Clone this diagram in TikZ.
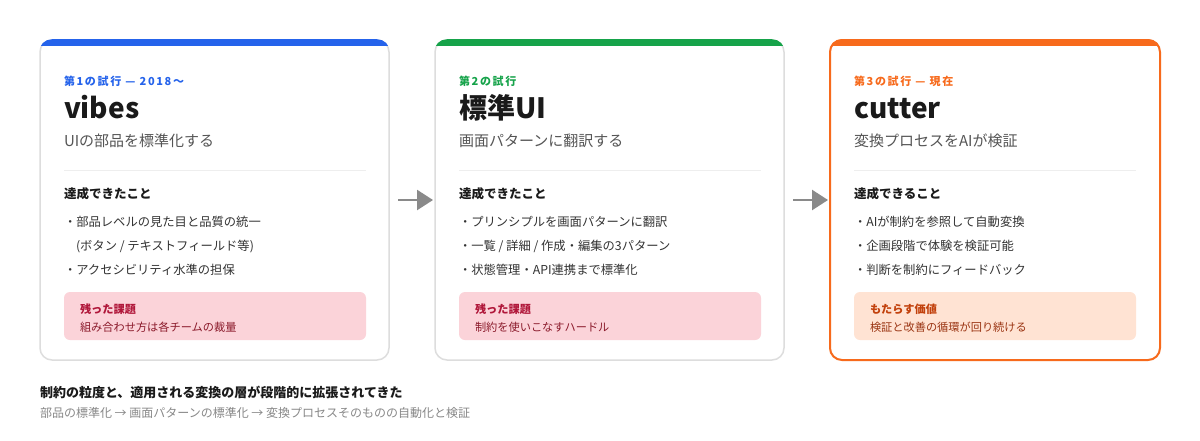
\documentclass[tikz,border=0pt]{standalone}
\usepackage{fontspec}
\setmainfont{Noto Sans CJK JP}
\usetikzlibrary{arrows.meta}
\definecolor{cblue}{HTML}{2563EB}
\definecolor{cgreen}{HTML}{16A34A}
\definecolor{corange}{HTML}{F76A1C}
\definecolor{cardline}{HTML}{DDDDDD}
\definecolor{sepline}{HTML}{EEEEEE}
\definecolor{darktxt}{HTML}{1A1A1A}
\definecolor{subtxt}{HTML}{555555}
\definecolor{bultxt}{HTML}{333333}
\definecolor{pinkfill}{HTML}{FBD3D9}
\definecolor{pinktitle}{HTML}{B0173A}
\definecolor{pinkbody}{HTML}{8B1A2B}
\definecolor{orfill}{HTML}{FFE3D3}
\definecolor{ortitle}{HTML}{C2410C}
\definecolor{orbody}{HTML}{9A3412}
\definecolor{arrowgray}{HTML}{8A8A8A}
\definecolor{foottxt}{HTML}{888888}
\newcommand\setfs[1]{\fontsize{#1}{#1}\selectfont}
\tikzset{
  card/.style={draw=cardline, line width=1.5pt, fill=white, rounded corners=12pt,
    minimum width=349pt, minimum height=320pt, inner sep=0pt, outer sep=0pt},
  txt/.style={anchor=base west, inner sep=0pt, outer sep=0pt},
  lbl/.style={txt, font=\setfs{11}\bfseries\addfontfeature{LetterSpace=15}},
  ttl/.style={txt, text=darktxt, font=\setfs{28}\bfseries},
  sub/.style={txt, text=subtxt, font=\setfs{15}},
  hd/.style={txt, text=darktxt, font=\setfs{12.5}\bfseries},
  bul/.style={txt, text=bultxt, font=\setfs{12.3}},
  sepl/.style={draw=sepline, line width=1pt},
  boxstyle/.style={rounded corners=6pt, minimum height=48pt, inner sep=0pt, outer sep=0pt},
  btitle/.style={txt, font=\setfs{11.2}\bfseries},
  bbody/.style={txt, font=\setfs{11.2}},
  flow/.style={draw=arrowgray, line width=2.5pt, -{Triangle[length=16pt,width=20pt]}},
}
\begin{document}
\begin{tikzpicture}[x=1pt,y=-1pt]
\useasboundingbox[fill=white] (0,0) rectangle (1200,440);

% cards
\node[card] (c1) at (214.5,200) {};
\node[card] (c2) at (609.5,200) {};
\node[card, draw=corange, line width=2pt, minimum width=330pt] (c3) at (995,200) {};

% top bars
\foreach \c/\col in {c1/cblue, c2/cgreen, c3/corange}{
  \begin{scope}
    \clip[rounded corners=12.8pt] ([xshift=-0.8pt,yshift=0.8pt]\c.north west) rectangle ([xshift=0.8pt,yshift=-0.8pt]\c.south east);
    \fill[\col] ([xshift=-1pt,yshift=1pt]\c.north west) rectangle ([xshift=1pt,yshift=-6pt]\c.north east);
  \end{scope}
}

% card 1
\node[lbl, text=cblue] (l1) at (64,85) {第1の試行 — 2018〜};
\node[ttl] (t1) at (64,118) {vibes};
\node[sub] (s1) at (64,146) {UIの部品を標準化する};
\draw[sepl] (64,170) -- (366,170);
\node[hd] (h1) at (64,198) {達成できたこと};
\node[bul] (b11) at (64,226) {・部品レベルの見た目と品質の統一};
\node[bul] (b12) at (76,250) {(ボタン / テキストフィールド等)};
\node[bul] (b13) at (64,274) {・アクセシビリティ水準の担保};
\node[boxstyle, fill=pinkfill, minimum width=302pt] (p1) at (215,316) {};
\node[btitle, text=pinktitle] (pt1) at (80,313) {残った課題};
\node[bbody, text=pinkbody] (pb1) at (80,331) {組み合わせ方は各チームの裁量};

% card 2
\node[lbl, text=cgreen] (l2) at (459,85) {第2の試行};
\node[ttl] (t2) at (459,118) {標準UI};
\node[sub] (s2) at (459,146) {画面パターンに翻訳する};
\draw[sepl] (459,170) -- (761,170);
\node[hd] (h2) at (459,198) {達成できたこと};
\node[bul] (b21) at (459,226) {・プリンシプルを画面パターンに翻訳};
\node[bul] (b22) at (459,250) {・一覧 / 詳細 / 作成・編集の3パターン};
\node[bul] (b23) at (459,274) {・状態管理・API連携まで標準化};
\node[boxstyle, fill=pinkfill, minimum width=302pt] (p2) at (610,316) {};
\node[btitle, text=pinktitle] (pt2) at (475,313) {残った課題};
\node[bbody, text=pinkbody] (pb2) at (475,331) {制約を使いこなすハードル};

% card 3
\node[lbl, text=corange] (l3) at (854,85) {第3の試行 — 現在};
\node[ttl] (t3) at (854,118) {cutter};
\node[sub] (s3) at (854,146) {変換プロセスをAIが検証};
\draw[sepl] (854,170) -- (1136,170);
\node[hd] (h3) at (854,198) {達成できること};
\node[bul] (b31) at (854,226) {・AIが制約を参照して自動変換};
\node[bul] (b32) at (854,250) {・企画段階で体験を検証可能};
\node[bul] (b33) at (854,274) {・判断を制約にフィードバック};
\node[boxstyle, fill=orfill, minimum width=282pt] (p3) at (995,316) {};
\node[btitle, text=ortitle] (pt3) at (870,313) {もたらす価値};
\node[bbody, text=orbody] (pb3) at (870,331) {検証と改善の循環が回り続ける};

% arrows
\draw[flow] ([xshift=9pt]c1.east) -- ([xshift=-2pt]c2.west);
\draw[flow] ([xshift=9pt]c2.east) -- ([xshift=-2pt]c3.west);

% footer
\node[txt, text=darktxt, font=\setfs{13}\bfseries] (f1) at (40,397.5) {制約の粒度と、適用される変換の層が段階的に拡張されてきた};
\node[txt, text=foottxt, font=\setfs{12}] (f2) at (40,417) {部品の標準化 → 画面パターンの標準化 → 変換プロセスそのものの自動化と検証};
\end{tikzpicture}
\end{document}
